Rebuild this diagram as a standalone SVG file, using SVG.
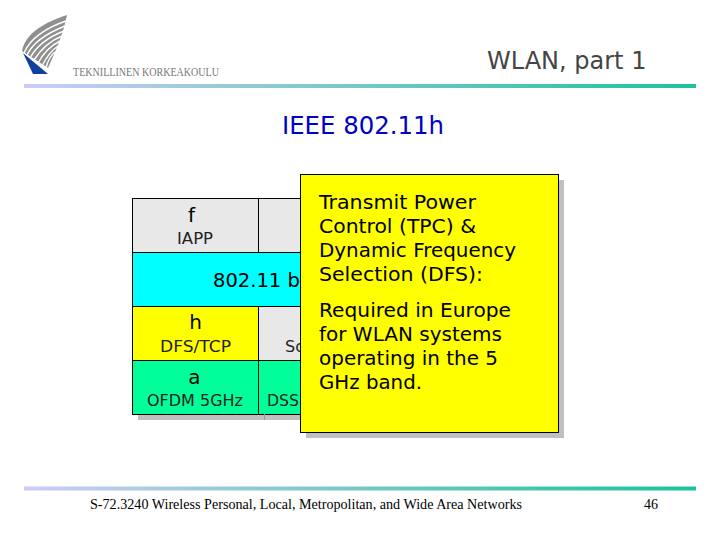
<svg xmlns="http://www.w3.org/2000/svg" width="720" height="540" viewBox="0 0 720 540">
<style>
.s{font-family:"DejaVu Sans","Liberation Sans",sans-serif}
.t{font-family:"Liberation Serif",serif}
.m{font-size:19.5px;fill:#000}
.c{font-size:16px;fill:#222}
.b{font-size:20px;fill:#000;text-anchor:middle}
.cell{stroke:#000;stroke-width:1}
.arc{fill:none;stroke:#fff;stroke-width:1.4}
</style>
<defs>
<linearGradient id="g" x1="0" x2="1" y1="0" y2="0"><stop offset="0" stop-color="#ccccf6"/><stop offset="1" stop-color="#1cc39a"/></linearGradient>
</defs>
<rect width="720" height="540" fill="#fff"/>
<g id="logo">
<path d="M67 15 C46 22 26 32 22 51 L48 68 C56 50 63 35 67 15 Z" fill="#8f8f8f"/>
<path class="arc" d="M66 21 C48 27 30 38 24 53"/>
<path class="arc" d="M65 26 C50 32 33 42 27 55"/>
<path class="arc" d="M64 31 C51 36 37 45 30 58"/>
<path class="arc" d="M62 36 C52 40 41 49 34 60"/>
<path class="arc" d="M60 41 C52 45 44 52 38 63"/>
<path class="arc" d="M58 46 C52 50 47 56 42 66"/>
<path class="arc" d="M55 52 C51 55 48 60 46 68"/>
<path d="M23 53 L48 74 L33 74 Z" fill="#0f3fa0"/>
<text class="t" x="73" y="76" font-size="11.500" fill="#777" textLength="146" lengthAdjust="spacingAndGlyphs">TEKNILLINEN KORKEAKOULU</text>
</g>
<g id="header">
<rect x="24" y="84" width="672" height="4" fill="url(#g)"/>
<text class="s" x="487" y="69" font-size="24" fill="#444">WLAN, part 1</text>
<text class="s" x="282" y="134" font-size="24" fill="#0000c8" textLength="162" lengthAdjust="spacingAndGlyphs">IEEE 802.11h</text>
</g>
<g id="table">
<rect x="138" y="204" width="300" height="216" fill="#c0c0c0"/>
<rect class="cell" x="132.500" y="198.500" width="126" height="54" fill="#e8e8e8"/>
<rect class="cell" x="258.500" y="198.500" width="126" height="54" fill="#e8e8e8"/>
<rect class="cell" x="132.500" y="252.500" width="252" height="54" fill="#00ffff"/>
<rect class="cell" x="132.500" y="306.500" width="126" height="54" fill="#ffff00"/>
<rect class="cell" x="258.500" y="306.500" width="126" height="54" fill="#e8e8e8"/>
<rect class="cell" x="132.500" y="360.500" width="126" height="54" fill="#00ff99"/>
<rect class="cell" x="258.500" y="360.500" width="126" height="54" fill="#00ff99"/>
<line x1="264.500" y1="414" x2="264.500" y2="420" stroke="#999"/>
<text class="s b" x="191.500" y="222">f</text>
<text class="s c" x="177" y="244" textLength="36" lengthAdjust="spacingAndGlyphs">IAPP</text>
<text class="s" x="213" y="287" font-size="19.500" fill="#000">802.11 b</text>
<text class="s b" x="195.500" y="329">h</text>
<text class="s c" x="160" y="351.500" textLength="71" lengthAdjust="spacingAndGlyphs">DFS/TCP</text>
<text class="s b" x="194.500" y="383.500">a</text>
<text class="s c" x="147" y="405.500" textLength="96" lengthAdjust="spacingAndGlyphs">OFDM 5GHz</text>
<text class="s c" x="285" y="351.500">Sc</text>
<text class="s c" x="267" y="405.500" textLength="32" lengthAdjust="spacingAndGlyphs">DSS</text>
</g>
<g id="callout">
<rect x="306" y="180" width="258" height="258" fill="#c0c0c0"/>
<rect x="300.500" y="174.500" width="258" height="258" fill="#ffff00" stroke="#000"/>
<text class="s m" x="319" y="208.500" textLength="157" lengthAdjust="spacingAndGlyphs">Transmit Power</text>
<text class="s m" x="319" y="232.500" textLength="157" lengthAdjust="spacingAndGlyphs">Control (TPC) &amp;</text>
<text class="s m" x="319" y="256.500" textLength="197" lengthAdjust="spacingAndGlyphs">Dynamic Frequency</text>
<text class="s m" x="319" y="280.500" textLength="164" lengthAdjust="spacingAndGlyphs">Selection (DFS):</text>
<text class="s m" x="319" y="316.500" textLength="192" lengthAdjust="spacingAndGlyphs">Required in Europe</text>
<text class="s m" x="319" y="340.500" textLength="183" lengthAdjust="spacingAndGlyphs">for WLAN systems</text>
<text class="s m" x="319" y="364.500" textLength="179" lengthAdjust="spacingAndGlyphs">operating in the 5</text>
<text class="s m" x="319" y="388.500" textLength="103" lengthAdjust="spacingAndGlyphs">GHz band.</text>
</g>
<g id="footer">
<rect x="24" y="486.500" width="672" height="4" fill="url(#g)"/>
<text class="t" x="90" y="509" font-size="14" fill="#000" textLength="432" lengthAdjust="spacingAndGlyphs">S-72.3240 Wireless Personal, Local, Metropolitan, and Wide Area Networks</text>
<text class="t" x="644" y="509" font-size="14" fill="#000">46</text>
</g>
</svg>
